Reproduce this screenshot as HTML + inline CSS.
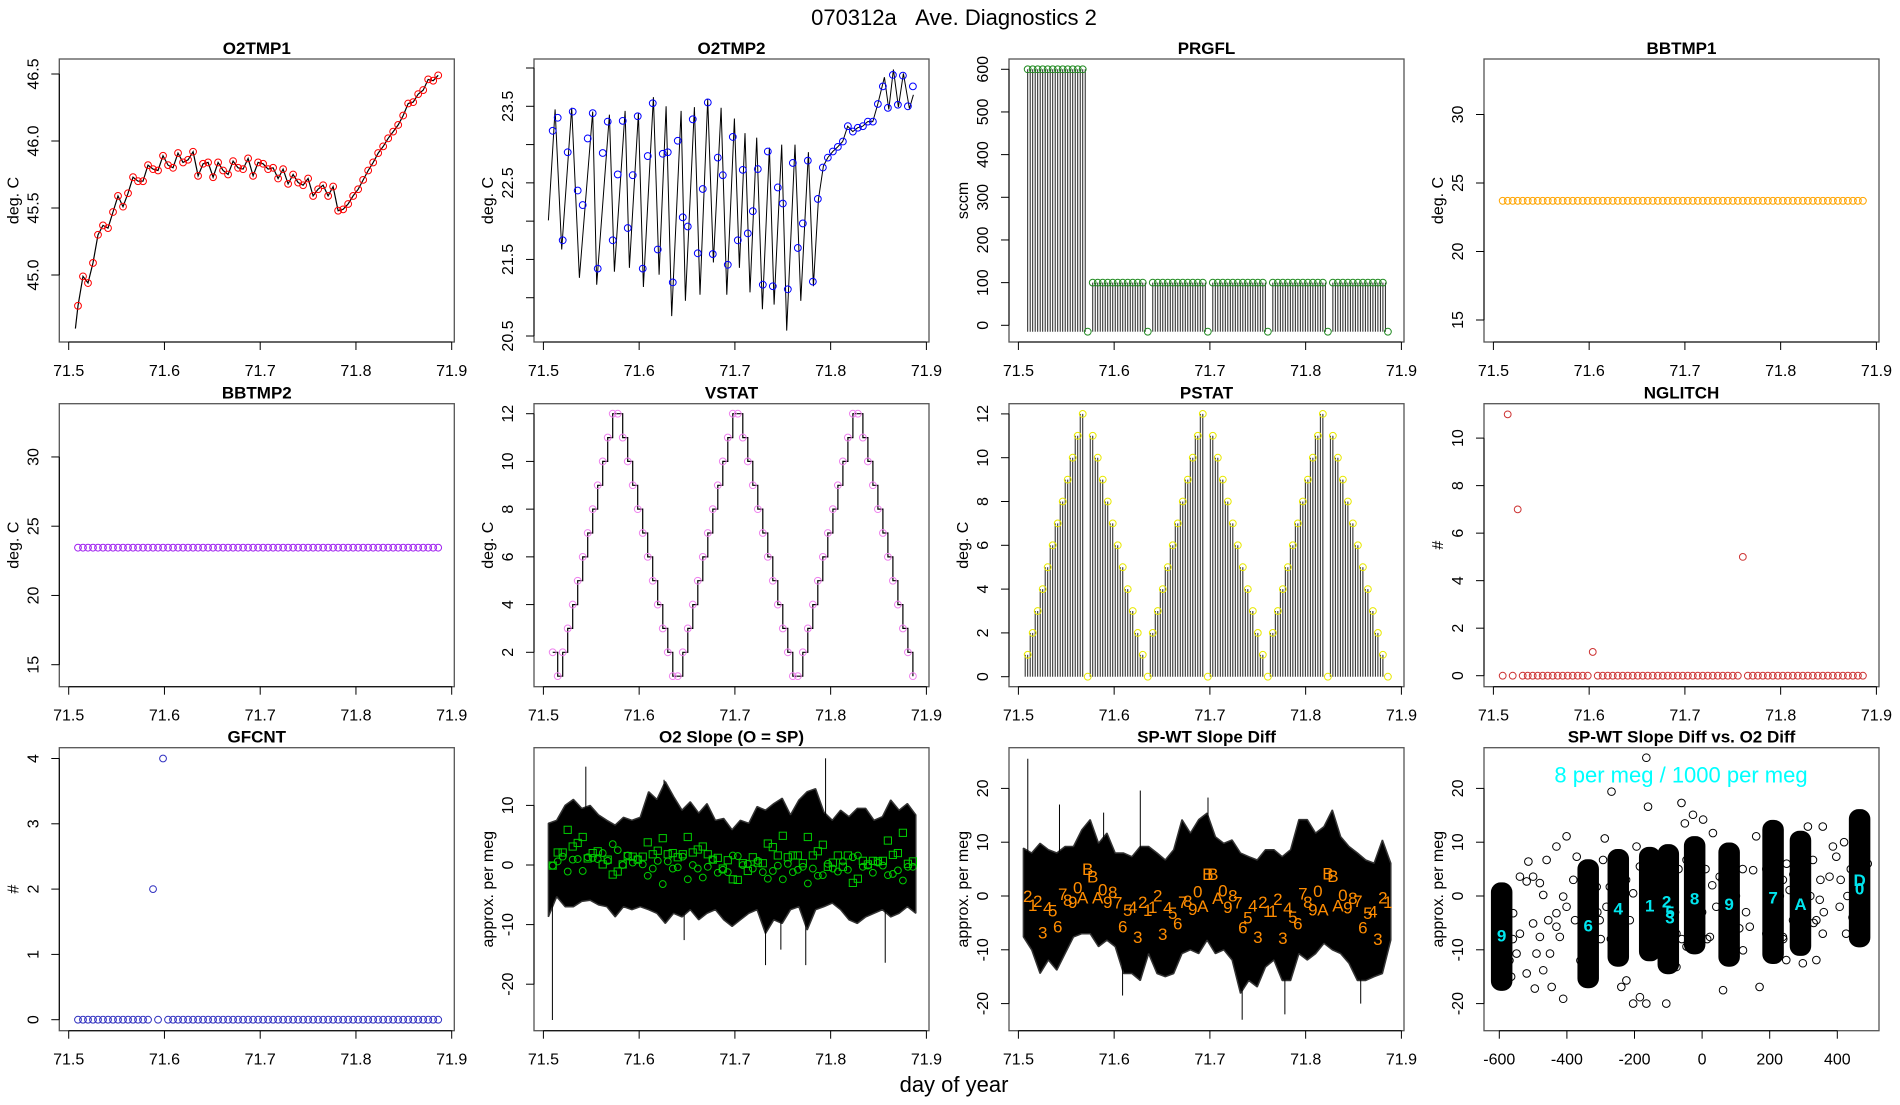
<!DOCTYPE html>
<html><head><meta charset="utf-8">
<style>
body{margin:0;background:#fff;width:1900px;height:1100px;overflow:hidden}
svg text{font-family:"Liberation Sans",Arial,sans-serif}
</style></head>
<body>
<svg id="fig" width="1900" height="1100" viewBox="0 0 1900 1100" xmlns="http://www.w3.org/2000/svg">
<rect width="1900" height="1100" fill="#fff"/>
<text x="954" y="25" font-size="22" text-anchor="middle">070312a&#160;&#160;&#160;Ave. Diagnostics 2</text>
<text x="954" y="1092" font-size="22" text-anchor="middle">day of year</text>
</svg>
<script>
// ---------- data ----------
const tStart = 71.5097, tStep = 0.005225;
const o2tmp1Vals = [44.77,44.99,44.94,45.09,45.30,45.37,45.35,45.47,45.59,45.51,
45.61,45.73,45.70,45.70,45.82,45.79,45.78,45.89,45.82,45.80,
45.91,45.84,45.86,45.92,45.74,45.83,45.84,45.73,45.84,45.78,
45.75,45.85,45.80,45.79,45.87,45.74,45.84,45.83,45.79,45.80,
45.72,45.79,45.68,45.75,45.69,45.67,45.72,45.59,45.64,45.67,
45.59,45.66,45.48,45.49,45.53,45.59,45.64,45.71,45.78,45.84,
45.91,45.96,46.02,46.07,46.12,46.19,46.28,46.29,46.35,46.38,
46.46,46.45,46.49];
const o2tmp1Ticks = [45.0,45.5,46.0,46.5];
const o2tmp1TickLabels = ['45.0','45.5','46.0','46.5'];

const o2tmp2Vals = [23.18,23.35,21.75,22.90,23.43,22.40,22.21,23.08,23.41,21.38,
22.89,23.30,21.75,22.61,23.31,21.91,22.60,23.37,21.38,22.85,
23.54,21.63,22.88,22.90,21.20,23.05,22.05,21.93,23.33,21.58,
22.42,23.55,21.57,22.83,22.60,21.43,23.10,21.75,22.67,21.84,
22.13,22.68,21.17,22.91,21.15,22.44,22.23,21.11,22.76,21.65,
21.97,22.79,21.21,22.29,22.70,22.83,22.91,22.97,23.04,23.24,
23.17,23.22,23.24,23.30,23.30,23.53,23.76,23.48,23.91,23.52,
23.90,23.50,23.76];
const o2tmp2LineT = [71.5052,71.5122,71.5191,71.5296,71.5376,71.5515,71.5557,71.5689,71.5742,71.5853,71.5898,71.5992,71.6044,71.6149,71.6208,71.6281,71.6340,71.6438,71.6483,71.6577,71.6636,71.6716,71.6775,71.6856,71.6915,71.6995,71.7047,71.7106,71.7158,71.7228,71.7287,71.7360,71.7409,71.7489,71.7541,71.7628,71.7688,71.7768,71.7820,71.7872,71.7924,71.7970,71.8022,71.8074,71.8126,71.8178,71.8231,71.8283,71.8335,71.8387,71.8440,71.8492,71.8561,71.8607,71.8655,71.8708,71.8760,71.8822,71.8864];
const o2tmp2LineV = [22.01,23.46,21.63,23.48,21.26,23.43,21.17,23.39,21.34,23.44,21.39,23.41,21.14,23.62,21.30,23.50,20.76,23.44,20.96,23.49,21.04,23.59,21.46,23.48,21.04,23.34,21.39,23.15,21.07,23.09,20.85,22.96,20.91,23.00,20.57,23.00,20.96,22.90,21.15,22.28,22.72,22.83,22.91,22.97,23.04,23.24,23.17,23.22,23.24,23.30,23.30,23.53,23.88,23.46,23.98,23.49,23.93,23.47,23.65];
const o2tmp2Ticks = [20.5,21,21.5,22,22.5,23,23.5,24];
const o2tmp2TickLabels = ['20.5','','21.5','','22.5','','23.5',''];

const prgflVals = [600,600,600,600,600,600,600,600,600,600,600,600,-15,
100,100,100,100,100,100,100,100,100,100,100,-15,
100,100,100,100,100,100,100,100,100,100,100,-15,
100,100,100,100,100,100,100,100,100,100,100,-15,
100,100,100,100,100,100,100,100,100,100,100,-15,
100,100,100,100,100,100,100,100,100,100,100,-15];
const prgflTicks = [0,100,200,300,400,500,600];

const bbtmp1Vals = [23.7,23.7,23.7,23.7,23.7,23.7,23.7,23.7,23.7,23.7,
23.7,23.7,23.7,23.7,23.7,23.7,23.7,23.7,23.7,23.7,
23.7,23.7,23.7,23.7,23.7,23.7,23.7,23.7,23.7,23.7,
23.7,23.7,23.7,23.7,23.7,23.7,23.7,23.7,23.7,23.7,
23.7,23.7,23.7,23.7,23.7,23.7,23.7,23.7,23.7,23.7,
23.7,23.7,23.7,23.7,23.7,23.7,23.7,23.7,23.7,23.7,
23.7,23.7,23.7,23.7,23.7,23.7,23.7,23.7,23.7,23.7,
23.7,23.7,23.7];
const bbtmp2Vals = [23.45,23.45,23.45,23.45,23.45,23.45,23.45,23.45,23.45,23.45,
23.45,23.45,23.45,23.45,23.45,23.45,23.45,23.45,23.45,23.45,
23.45,23.45,23.45,23.45,23.45,23.45,23.45,23.45,23.45,23.45,
23.45,23.45,23.45,23.45,23.45,23.45,23.45,23.45,23.45,23.45,
23.45,23.45,23.45,23.45,23.45,23.45,23.45,23.45,23.45,23.45,
23.45,23.45,23.45,23.45,23.45,23.45,23.45,23.45,23.45,23.45,
23.45,23.45,23.45,23.45,23.45,23.45,23.45,23.45,23.45,23.45,
23.45,23.45,23.45];
const bbTicks = [15,20,25,30];

const vstatVals = [2,1,2,3,4,5,6,7,8,9,10,11,12,12,11,10,9,8,7,6,5,4,3,2,1,1,
2,3,4,5,6,7,8,9,10,11,12,12,11,10,9,8,7,6,5,4,3,2,1,1,
2,3,4,5,6,7,8,9,10,11,12,12,11,10,9,8,7,6,5,4,3,2,1];
const vstatTicks = [2,4,6,8,10,12];

const pstatVals = [1,2,3,4,5,6,7,8,9,10,11,12,0,11,10,9,8,7,6,5,4,3,2,1,0,
2,3,4,5,6,7,8,9,10,11,12,0,11,10,9,8,7,6,5,4,3,2,1,0,
2,3,4,5,6,7,8,9,10,11,12,0,11,10,9,8,7,6,5,4,3,2,1,0];
const pstatTicks = [0,2,4,6,8,10,12];

const nglitchVals = [0,11,0,7,0,0,0,0,0,0,0,0,0,0,0,0,0,0,1,0,
0,0,0,0,0,0,0,0,0,0,0,0,0,0,0,0,0,0,0,0,
0,0,0,0,0,0,0,0,5,0,0,0,0,0,0,0,0,0,0,0,
0,0,0,0,0,0,0,0,0,0,0,0,0];
const nglitchTicks = [0,2,4,6,8,10];

const gfcntVals = [0,0,0,0,0,0,0,0,0,0,0,0,0,0,0,2,0,4,0,0,
0,0,0,0,0,0,0,0,0,0,0,0,0,0,0,0,0,0,0,0,
0,0,0,0,0,0,0,0,0,0,0,0,0,0,0,0,0,0,0,0,
0,0,0,0,0,0,0,0,0,0,0,0,0];
const gfcntTicks = [0,1,2,3,4];

const bandStart = 71.5052, bandStep = 0.00872;
const slopeHi = [7,7.5,10,11,9.5,10,8.4,7.5,6.7,8,7.5,8,12.3,11,14,11.5,9.2,10.6,8.7,10.3,7.5,7.8,5.9,7.5,7,9.8,9.2,10.3,11.2,8.4,10.9,12.3,12.8,8.9,7.5,9.2,8.1,9.5,9.5,7.5,8.1,10.9,9.2,10.3,8.4];
const slopeLo = [-8.7,-5.3,-7,-7,-6.1,-5.9,-6.7,-7,-8.7,-7,-7.5,-7,-7.5,-8.1,-9.8,-8.1,-8.7,-7.5,-9.2,-8.1,-7.5,-9.2,-10.3,-9.2,-8.1,-7.5,-11.5,-9.2,-9.8,-7.5,-7,-10.9,-7.5,-7,-6.4,-7.5,-9.2,-9.8,-8.7,-8.1,-7.5,-8.7,-8.1,-7,-8.1];
const slopeSpikeT = [71.5094,71.5443,71.6260,71.6470,71.7320,71.7480,71.7740,71.7947,71.8570];
const slopeSpikeV = [-26,16.5,14.3,-12.6,-16.8,-14.2,-16.8,17.9,-16.4];
const slopeCirc = [-0.1,0.6,1.4,-1.1,0.9,1,-1,1.3,1.2,1,2,0.7,3.5,2.5,0,1.6,0.4,1,0.1,-1.8,
-0.6,0.7,-3.2,0.6,-0.6,-0.4,1.4,-2.4,0,-0.6,-2.1,-0.3,0.9,-1.3,-0.8,-1.2,1.6,1.5,0,0.2,
-0.6,0.7,-1.2,-2.3,-1,-0.1,-2.4,0.2,-1.2,-0.8,-0.3,-3.1,-0.6,-1.8,-1.7,0.2,-0.6,-1.1,0.6,-0.8,
1.3,1.6,-0.3,-0.1,-1.3,0.4,-0.1,-1.7,-1.5,-0.9,-2.6,-0.3,-0.3];
const slopeSq = [-0.1,2.1,2.1,5.9,3.1,3.7,4.7,1.1,2,2.3,0.1,0.9,-1.6,-1.1,0.1,1.5,1.4,0.9,1.4,3.8,
1.8,2.4,4.5,1.8,2,1.3,1.8,4.7,2.1,2.6,3.1,1.8,0.9,1.2,-0.6,0.8,-2.4,-2.5,0.3,-1,
1.3,0.4,0.3,3.6,3,1.6,4.9,1.3,1.6,1.6,0.3,4.7,1.6,2.3,3.4,-0.3,0.4,1.6,-0.3,1.6,
-3,-2.3,0.7,0.1,0.7,0.6,0.7,4.1,1.7,2,5.4,0.2,0.6];
const slopeTicks = [-20,-10,0,10];

const diffHi = [8.9,8,9.8,8.6,8,9.2,9.2,12.3,14.2,9.8,11.7,8,8,7.3,9.2,9.2,8,6.7,8.6,14.2,11.7,14.2,15.4,11,9.8,10.4,8,7.3,6.7,8.6,8.6,7.3,8.6,14.2,14.2,11.7,12.9,16,11,9.2,8,6.7,6.1,10.4,6.1];
const diffLo = [-7.6,-10,-14.4,-11.9,-13.8,-10.7,-7.6,-7,-7,-9.4,-8.2,-9.4,-14.4,-14.4,-15.7,-10.7,-14.4,-15,-14.4,-10.7,-10,-10.7,-8.2,-10.7,-10,-11.9,-18.1,-15.7,-16.9,-13.2,-11.9,-15.7,-15.7,-10.7,-11.9,-10.7,-8.8,-10,-10.7,-12.5,-15.7,-15.7,-15,-14.4,-8.2];
const diffSpikeT = [71.5098,71.5429,71.5890,71.6088,71.6273,71.6980,71.7337,71.7783,71.8575];
const diffSpikeV = [25.5,17,15.5,-18.5,19.6,18.3,-23,-22,-20];
const diffLabels = ['2','1','2','3','4','5','6','7','8','9','0','A','B','B','A','0','9','8','7','6','5','4','3','2','1','1',
'2','3','4','5','6','7','8','9','0','A','B','B','A','0','9','8','7','6','5','4','3','2','1','1',
'2','3','4','5','6','7','8','9','0','A','B','B','A','0','9','8','7','6','5','4','3','2','1'];
const diffLabelVals = [0,-1.7,-0.9,-6.8,-2.1,-2.7,-5.7,0.4,-0.7,-1.1,1.6,-0.3,5,3.6,-0.3,1.2,-1.1,0.7,-1.2,-5.7,
-2.6,-2,-7.6,-1.1,-2.6,-2,0.1,-7.1,-2.1,-3.2,-5.1,-1.1,-0.9,-2.4,0.8,-1.9,4.1,4.1,-0.4,1,
-2,0.1,-1.2,-5.9,-4,-1.8,-7.6,-1.1,-2.8,-2.8,-0.6,-7.8,-2.2,-3.9,-5.1,0.5,-1.1,-2.5,0.9,-2.5,
4.2,3.7,-1.8,0.2,-2.1,-0.4,-0.9,-5.9,-3.2,-2.9,-8,-0.3,-1.1];
const diffTicks = [-20,-10,0,10,20];

const clusterX = [-593,-337,-248,-155,-100,-22,80,210,291,466];
const clusterHi = [2.4,6.7,8.6,9,9.5,11,9.8,14,12,16];
const clusterLo = [-17.5,-17,-13,-12,-14.4,-10.7,-13,-12.5,-11,-9.4];
const scatX = [-500,-480,-559,-539,-549,-519,-495,-470,-450,-431,-411,-401,-431,-460,-480,-519,-539,-514,-500,-470,-455,-431,-421,-401,-381,-371,-376,-411,-445,-490,
-303,-283,-312,-293,-288,-273,-253,-239,-224,-214,-204,-184,-194,-204,-184,-165,-160,-135,-76,-61,-51,-46,-27,3,23,42,32,52,121,151,
141,170,190,239,259,249,269,313,328,348,338,357,377,387,407,426,397,62,91,160,298,-268,-165,-106,-76,239,338,-46,357,
-575,-570,-565,-580,-560,-320,-310,-360,-325,-300,-230,-225,-270,-265,-130,-120,-80,-70,-60,-125,0,10,-40,15,30,100,110,60,120,130,230,240,190,250,320,330,270,350,360,440,430,445,420,490,410];
const scatY = [-5.1,-7.6,-3.2,-7,-10.7,-14.4,-17.2,-13.8,-10.7,-5.7,-0.1,11.1,9.2,6.7,2.4,2.7,3.6,6.4,3.6,0.2,-4.5,-3.2,-7.6,-2,3,7.3,-4.5,-19.1,-16.9,-10.7,
-4.5,-2,1.7,6.7,10.7,1.7,4.8,-16.9,-15.7,-4.5,0.5,5.5,9.2,-20,-18.8,-20,16.6,-9.4,-7,17.3,13.5,6.7,15.1,14.2,-7.6,-2,11.7,3.6,-10.1,4.8,
-5.7,-16.9,-7,3,1.1,-11.9,-4.5,12.9,6.7,-0.7,-4.5,12.9,3.6,9.2,-2,-7,7.3,-17.5,-8.2,11.1,-12.5,19.4,25.7,-20,-13.2,-7.6,-11.9,-9.4,-7,
-5,-12,-15,-10,-8,-10,-3,-12,2,-8,-5,3,-8,0,2,-6,-3,5,-8,-10,-3,5,0,-8,2,0,-6,3,5,-3,0,-8,5,6,0,-5,4,3,-3,5,0,-4,10,6,3];
const cyanLabels = ['9','6','4','1','2','5','3','8','9','7','A','D','0'];
const cyanX = [-593,-337,-248,-155,-105,-95,-95,-22,80,210,291,466,466];
const cyanY = [-7.3,-5.5,-2.3,-1.8,-1,-3,-4,-0.5,-1.5,-0.3,-1.5,3,1.4];
const scatXTicks = [-600,-400,-200,0,200,400];
const timeTicks = [71.5,71.6,71.7,71.8,71.9];

// ---------- helpers ----------
const NS = 'http://www.w3.org/2000/svg';
const svg = document.getElementById('fig');
function mk(tag, attrs, parent) {
  const e = document.createElementNS(NS, tag);
  for (const k in attrs) e.setAttribute(k, attrs[k]);
  (parent || svg).appendChild(e);
  return e;
}
const COLX = [59.3, 534, 1009, 1484], ROWY = [59, 403.7, 747.7], PW = 395, PH = 283;
function tAt(i) { return tStart + i * tStep; }

function makePanel(col, row, name) {
  const g = mk('g', {});
  
  
  const x0 = COLX[col], y0 = ROWY[row];
  return { g: g, x0: x0, y0: y0, sx: function (t) { return x0 + 9.4 + (t - 71.5) * 957.5; } };
}

function frame(p, title, ylab, xticks, xlabels, xfn, yticks, ylabels, yfn) {
  const g = p.g;
  const box = mk('rect', { x: p.x0, y: p.y0, width: PW, height: PH, fill: 'none', stroke: '#555', 'stroke-width': 1.3 }, g);
  
  
  const tt = mk('text', { x: p.x0 + PW / 2, y: p.y0 - 5, 'font-size': 17, 'font-weight': 'bold', 'text-anchor': 'middle' }, g);
  tt.textContent = title;
  
  
  const yb = p.y0 + PH;
  const xa = mk('line', { x1: xfn(xticks[0]), x2: xfn(xticks[xticks.length - 1]), y1: yb, y2: yb, stroke: '#000', 'stroke-width': 1 }, g);
  
  
  xticks.forEach(function (v, i) {
    const x = xfn(v);
    const tk = mk('line', { x1: x, x2: x, y1: yb, y2: yb + 8, stroke: '#000' }, g);
    
    
    const tl = mk('text', { x: x, y: yb + 34, 'font-size': 16, 'text-anchor': 'middle' }, g);
    tl.textContent = xlabels[i];
    
    
  });
  const ya = mk('line', { x1: p.x0, x2: p.x0, y1: yfn(yticks[0]), y2: yfn(yticks[yticks.length - 1]), stroke: '#000' }, g);
  
  
  yticks.forEach(function (v, i) {
    const y = yfn(v);
    const tk = mk('line', { x1: p.x0 - 8, x2: p.x0, y1: y, y2: y, stroke: '#000' }, g);
    
    
    if (ylabels[i] !== '') {
      const bx = p.x0 - 21;
      const tl = mk('text', { x: bx, y: y, 'font-size': 16, 'text-anchor': 'middle', transform: 'rotate(-90 ' + bx + ' ' + y + ')' }, g);
      tl.textContent = ylabels[i];
      
      
    }
  });
  const lx = p.x0 - 41, ly = p.y0 + PH / 2;
  const yl = mk('text', { x: lx, y: ly, 'font-size': 16, 'text-anchor': 'middle', transform: 'rotate(-90 ' + lx + ' ' + ly + ')' }, g);
  yl.textContent = ylab;
  
  
}
const timeLabels = timeTicks.map(function (v) { return v.toFixed(1); });
function circ(g, x, y, color) {
  const c = mk('circle', { cx: x, cy: y, r: 3.4, fill: 'none', stroke: color, 'stroke-width': 1 }, g);
  return c;
}

// ---------- Panel 1: O2TMP1 ----------
(function () {
  const p = makePanel(0, 0, 'o2tmp1-panel');
  const sy = function (v) { return p.y0 + 216 - (v - 45) * 134; };
  frame(p, 'O2TMP1', 'deg. C', timeTicks, timeLabels, p.sx, o2tmp1Ticks, o2tmp1TickLabels, sy);
  let pts = p.sx(71.507).toFixed(1) + ',' + sy(44.6).toFixed(1);
  o2tmp1Vals.forEach(function (v, i) { pts += ' ' + p.sx(tAt(i)).toFixed(1) + ',' + sy(v).toFixed(1); });
  const ln = mk('polyline', { points: pts, fill: 'none', stroke: '#000', 'stroke-width': 1.2 }, p.g);
  
  
  o2tmp1Vals.forEach(function (v, i) {
    const c = circ(p.g, p.sx(tAt(i)), sy(v), '#ff0000');
    
    
  });
})();

// ---------- Panel 2: O2TMP2 ----------
(function () {
  const p = makePanel(1, 0, 'o2tmp2-panel');
  const sy = function (v) { return p.y0 + 277 - (v - 20.5) * 76.57; };
  frame(p, 'O2TMP2', 'deg. C', timeTicks, timeLabels, p.sx, o2tmp2Ticks, o2tmp2TickLabels, sy);
  let pts = '';
  o2tmp2LineT.forEach(function (t, i) { pts += p.sx(t).toFixed(1) + ',' + sy(o2tmp2LineV[i]).toFixed(1) + ' '; });
  const ln = mk('polyline', { points: pts, fill: 'none', stroke: '#000', 'stroke-width': 1 }, p.g);
  
  
  o2tmp2Vals.forEach(function (v, i) {
    const c = circ(p.g, p.sx(tAt(i)), sy(v), '#0000ff');
    
    
  });
})();

// ---------- Panel 3: PRGFL ----------
(function () {
  const p = makePanel(2, 0, 'prgfl-panel');
  const sy = function (v) { return p.y0 + 266.3 - v * 0.4267; };
  frame(p, 'PRGFL', 'sccm', timeTicks, timeLabels, p.sx, prgflTicks, prgflTicks.map(String), sy);
  prgflVals.forEach(function (v, i) {
    if (v > 0) {
      [tAt(i), tAt(i) + tStep / 2].forEach(function (t) {
        const l = mk('line', { x1: p.sx(t), x2: p.sx(t), y1: sy(-15), y2: sy(v), stroke: '#222', 'stroke-width': 1 }, p.g);
        
        
      });
    }
  });
  prgflVals.forEach(function (v, i) {
    const c = circ(p.g, p.sx(tAt(i)), sy(v), '#228b22');
    
    
  });
})();

// ---------- Panel 4: BBTMP1 ----------
(function () {
  const p = makePanel(3, 0, 'bbtmp1-panel');
  const sy = function (v) { return p.y0 + 261 - (v - 15) * 13.7; };
  frame(p, 'BBTMP1', 'deg. C', timeTicks, timeLabels, p.sx, bbTicks, bbTicks.map(String), sy);
  bbtmp1Vals.forEach(function (v, i) {
    const c = circ(p.g, p.sx(tAt(i)), sy(v), '#ffa500');
    
    
  });
})();

// ---------- Panel 5: BBTMP2 ----------
(function () {
  const p = makePanel(0, 1, 'bbtmp2-panel');
  const sy = function (v) { return p.y0 + 261 - (v - 15) * 13.85; };
  frame(p, 'BBTMP2', 'deg. C', timeTicks, timeLabels, p.sx, bbTicks, bbTicks.map(String), sy);
  bbtmp2Vals.forEach(function (v, i) {
    const c = circ(p.g, p.sx(tAt(i)), sy(v), '#a020f0');
    
    
  });
})();

// ---------- Panel 6: VSTAT ----------
(function () {
  const p = makePanel(1, 1, 'vstat-panel');
  const sy = function (v) { return p.y0 + 10 + (12 - v) * 23.86; };
  frame(p, 'VSTAT', 'deg. C', timeTicks, timeLabels, p.sx, vstatTicks, vstatTicks.map(String), sy);
  let pts = '';
  vstatVals.forEach(function (v, i) {
    pts += p.sx(tAt(i)).toFixed(1) + ',' + sy(v).toFixed(1) + ' ';
    if (i < vstatVals.length - 1) pts += p.sx(tAt(i + 1)).toFixed(1) + ',' + sy(v).toFixed(1) + ' ';
  });
  const ln = mk('polyline', { points: pts, fill: 'none', stroke: '#000', 'stroke-width': 1.2 }, p.g);
  
  
  vstatVals.forEach(function (v, i) {
    const c = circ(p.g, p.sx(tAt(i)), sy(v), '#ee82ee');
    
    
  });
})();

// ---------- Panel 7: PSTAT ----------
(function () {
  const p = makePanel(2, 1, 'pstat-panel');
  const sy = function (v) { return p.y0 + 273 - v * 21.9; };
  frame(p, 'PSTAT', 'deg. C', timeTicks, timeLabels, p.sx, pstatTicks, pstatTicks.map(String), sy);
  pstatVals.forEach(function (v, i) {
    if (v > 0) {
      [tAt(i) - tStep / 2, tAt(i)].forEach(function (t) {
        const l = mk('line', { x1: p.sx(t), x2: p.sx(t), y1: sy(0), y2: sy(v), stroke: '#222', 'stroke-width': 1 }, p.g);
        
        
      });
    }
  });
  pstatVals.forEach(function (v, i) {
    const c = circ(p.g, p.sx(tAt(i)), sy(v), '#e8e800');
    
    
  });
})();

// ---------- Panel 8: NGLITCH ----------
(function () {
  const p = makePanel(3, 1, 'nglitch-panel');
  const sy = function (v) { return p.y0 + 272 - v * 23.76; };
  frame(p, 'NGLITCH', '#', timeTicks, timeLabels, p.sx, nglitchTicks, nglitchTicks.map(String), sy);
  nglitchVals.forEach(function (v, i) {
    const c = circ(p.g, p.sx(tAt(i)), sy(v), '#cd3333');
    
    
  });
})();

// ---------- Panel 9: GFCNT ----------
(function () {
  const p = makePanel(0, 2, 'gfcnt-panel');
  const sy = function (v) { return p.y0 + 272 - v * 65.3; };
  frame(p, 'GFCNT', '#', timeTicks, timeLabels, p.sx, gfcntTicks, gfcntTicks.map(String), sy);
  gfcntVals.forEach(function (v, i) {
    const c = circ(p.g, p.sx(tAt(i)), sy(v), '#3030c0');
    
    
  });
})();

// ---------- band helper ----------
function band(p, sy, hi, lo) {
  let pts = '';
  hi.forEach(function (v, k) { pts += p.sx(bandStart + k * bandStep).toFixed(1) + ',' + sy(v).toFixed(1) + ' '; });
  for (let k = lo.length - 1; k >= 0; k--) pts += p.sx(bandStart + k * bandStep).toFixed(1) + ',' + sy(lo[k]).toFixed(1) + ' ';
  return mk('polygon', { points: pts, fill: '#000', stroke: '#333', 'stroke-width': 1.5, 'stroke-linejoin': 'bevel' }, p.g);
}

// ---------- Panel 10: O2 Slope ----------
(function () {
  const p = makePanel(1, 2, 'o2-slope-panel');
  const sy = function (v) { return p.y0 + 117.3 - v * 5.96; };
  frame(p, 'O2 Slope (O = SP)', 'approx. per meg', timeTicks, timeLabels, p.sx, slopeTicks, slopeTicks.map(String), sy);
  const b = band(p, sy, slopeHi, slopeLo);
  
  
  slopeSpikeT.forEach(function (t, i) {
    const l = mk('line', { x1: p.sx(t), x2: p.sx(t), y1: sy(0), y2: sy(slopeSpikeV[i]), stroke: '#000', 'stroke-width': 1 }, p.g);
    
    
  });
  slopeSq.forEach(function (v, i) {
    const x = p.sx(tAt(i)), y = sy(v);
    const s = mk('rect', { x: x - 3.6, y: y - 3.6, width: 7.2, height: 7.2, fill: 'none', stroke: '#00cd00', 'stroke-width': 1 }, p.g);
    
    
  });
  slopeCirc.forEach(function (v, i) {
    const c = circ(p.g, p.sx(tAt(i)), sy(v), '#00cd00');
    
    
  });
})();

// ---------- Panel 11: SP-WT Slope Diff ----------
(function () {
  const p = makePanel(2, 2, 'slope-diff-panel');
  const sy = function (v) { return p.y0 + 148.3 - v * 5.38; };
  frame(p, 'SP-WT Slope Diff', 'approx. per meg', timeTicks, timeLabels, p.sx, diffTicks, diffTicks.map(String), sy);
  const b = band(p, sy, diffHi, diffLo);
  
  
  diffSpikeT.forEach(function (t, i) {
    const l = mk('line', { x1: p.sx(t), x2: p.sx(t), y1: sy(0), y2: sy(diffSpikeV[i]), stroke: '#000', 'stroke-width': 1 }, p.g);
    
    
  });
  diffLabels.forEach(function (ch, i) {
    const t = mk('text', { x: p.sx(tAt(i)), y: sy(diffLabelVals[i]) + 6, 'font-size': 17, fill: '#ff8c00', 'text-anchor': 'middle' }, p.g);
    t.textContent = ch;
    
    
  });
})();

// ---------- Panel 12: scatter ----------
(function () {
  const p = makePanel(3, 2, 'slope-vs-o2-panel');
  const sx = function (x) { return 1499.3 + (x + 600) * 0.338; };
  const sy = function (v) { return p.y0 + 148.3 - v * 5.38; };
  frame(p, 'SP-WT Slope Diff vs. O2 Diff', 'approx. per meg', scatXTicks, scatXTicks.map(String), sx, diffTicks, diffTicks.map(String), sy);
  scatX.forEach(function (x, i) {
    const c = mk('circle', { cx: sx(x), cy: sy(scatY[i]), r: 3.8, fill: 'none', stroke: '#000', 'stroke-width': 1 }, p.g);
    
    
  });
  clusterX.forEach(function (x, i) {
    const top = sy(clusterHi[i]), bot = sy(clusterLo[i]);
    const r = mk('rect', { x: sx(x) - 10, y: top, width: 20, height: bot - top, rx: 9, ry: 9, fill: '#000', stroke: '#000', 'stroke-width': 1.5 }, p.g);
    
    
  });
  cyanLabels.forEach(function (ch, i) {
    const t = mk('text', { x: sx(cyanX[i]), y: sy(cyanY[i]) + 6, 'font-size': 17, 'font-weight': 'bold', fill: '#00e5ee', 'text-anchor': 'middle' }, p.g);
    t.textContent = ch;
    
    
  });
  const note = mk('text', { x: p.x0 + 197, y: p.y0 + 35, 'font-size': 22, fill: '#00ffff', 'text-anchor': 'middle' }, p.g);
  note.textContent = '8 per meg / 1000 per meg';
  
  
})();
</script>
</body></html>
